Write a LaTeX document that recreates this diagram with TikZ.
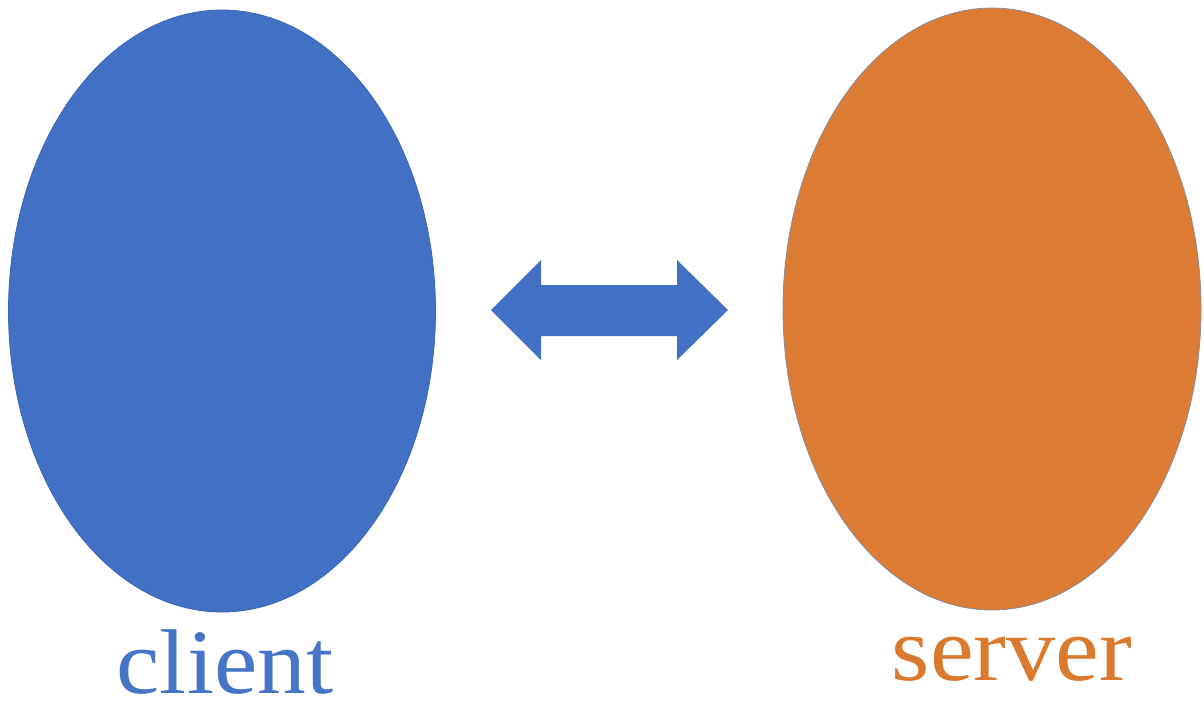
\documentclass[tikz,border=0pt]{standalone}
\usepackage{fontspec}
\setmainfont{Liberation Serif}
\usetikzlibrary{shapes.geometric}
\definecolor{clientblue}{HTML}{4270C4}
\definecolor{clientedge}{HTML}{3A66B4}
\definecolor{serverorange}{HTML}{DC7B33}
\definecolor{serveredge}{HTML}{8A8A9A}
\definecolor{labelblue}{HTML}{4674C6}
\definecolor{labelorange}{HTML}{DA7A2E}
\tikzset{
  party/.style={ellipse, minimum width=427pt, minimum height=602pt, inner sep=0pt, line width=0.8pt},
  partylabel/.style={anchor=base, inner sep=0pt, font=\fontsize{92}{92}\selectfont},
  link/.style={fill=clientblue}
}
\begin{document}
\begin{tikzpicture}[x=1pt, y=-1pt]
  \useasboundingbox (0,0) rectangle (1204,702);
  % the two endpoints of the exchange
  \node[party, fill=clientblue, draw=clientedge] (client) at (222,311) {};
  \node[party, fill=serverorange, draw=serveredge, minimum width=418pt] (server) at (992,309) {};
  % two-way arrow between them
  \coordinate (lt) at (491,310);
  \coordinate (rt) at (728,310);
  \fill[link] (lt) -- (541,260) -- (541,285) -- (677,285) -- (677,260) -- (rt)
     -- (677,360) -- (677,336) -- (541,336) -- (541,360) -- cycle;
  % labels
  \node[partylabel, text=labelblue] (clientlabel) at (225,693) {\scalebox{1.06}[1]{client}};
  \node[partylabel, text=labelorange] (serverlabel) at (1012,680) {\scalebox{1.07}[1]{server}};
\end{tikzpicture}
\end{document}
